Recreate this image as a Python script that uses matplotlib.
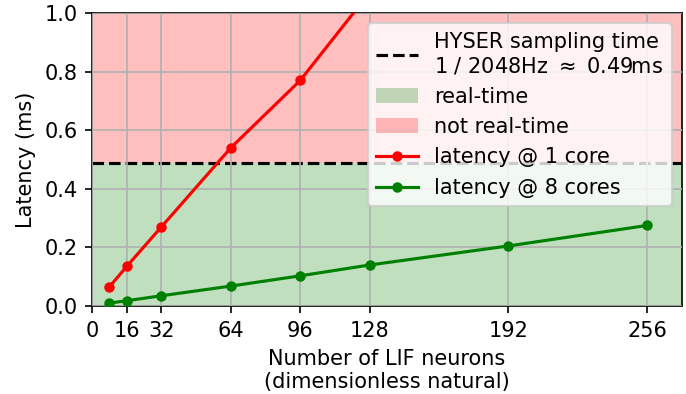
import matplotlib
matplotlib.use("Agg")
import matplotlib.pyplot as plt
from matplotlib.patches import Patch

neurons = [8, 16, 32, 64, 96, 128]
lat_1core = [0.065, 0.135, 0.27, 0.54, 0.77, 1.07]
neurons_8 = [8, 16, 32, 64, 96, 128, 192, 256]
lat_8cores = [0.010, 0.018, 0.035, 0.068, 0.103, 0.140, 0.205, 0.275]
xticks = [0, 16, 32, 64, 96, 128, 192, 256]
threshold = 1000.0 / 2048.0

plt.rcParams['font.size'] = 10
DPI = 150
fig = plt.figure(figsize=(686/DPI, 394/DPI), dpi=DPI)
ax = fig.add_axes([92/686, 1 - 306/394, 590/686, 293/394])

ax.axhspan(0, threshold, color='green', alpha=0.25, lw=0)
ax.axhspan(threshold, 1.0, color='red', alpha=0.25, lw=0)
ax.axhline(threshold, color='black', ls='--', lw=1.5, zorder=2)
ax.plot(neurons, lat_1core, color='red', marker='o', lw=1.5, ms=4, zorder=3)
ax.plot(neurons_8, lat_8cores, color='green', marker='o', lw=1.5, ms=4, zorder=3)

ax.set_xlim(0, 272)
ax.set_ylim(0, 1.0)
ax.set_xticks(xticks)
ax.set_yticks([0, 0.2, 0.4, 0.6, 0.8, 1.0])
ax.grid(True, color='#b0b0b0')
ax.set_axisbelow(False)
for l in ax.get_xgridlines() + ax.get_ygridlines():
    l.set_zorder(1.5)
ax.set_xlabel("Number of LIF neurons\n(dimensionless natural)")
ax.set_ylabel("Latency (ms)")

handles = [
    plt.Line2D([], [], color='black', ls='--', lw=1.5),
    Patch(facecolor='green', alpha=0.25),
    Patch(facecolor='red', alpha=0.25),
    plt.Line2D([], [], color='red', marker='o', lw=1.5, ms=4),
    plt.Line2D([], [], color='green', marker='o', lw=1.5, ms=4),
]
labels = ["HYSER sampling time\n1 / 2048Hz $\\approx$ 0.49ms", "real-time",
          "not real-time", "latency @ 1 core", "latency @ 8 cores"]
ax.legend(handles, labels, loc='upper right')

fig.savefig("out.png", dpi=DPI)
